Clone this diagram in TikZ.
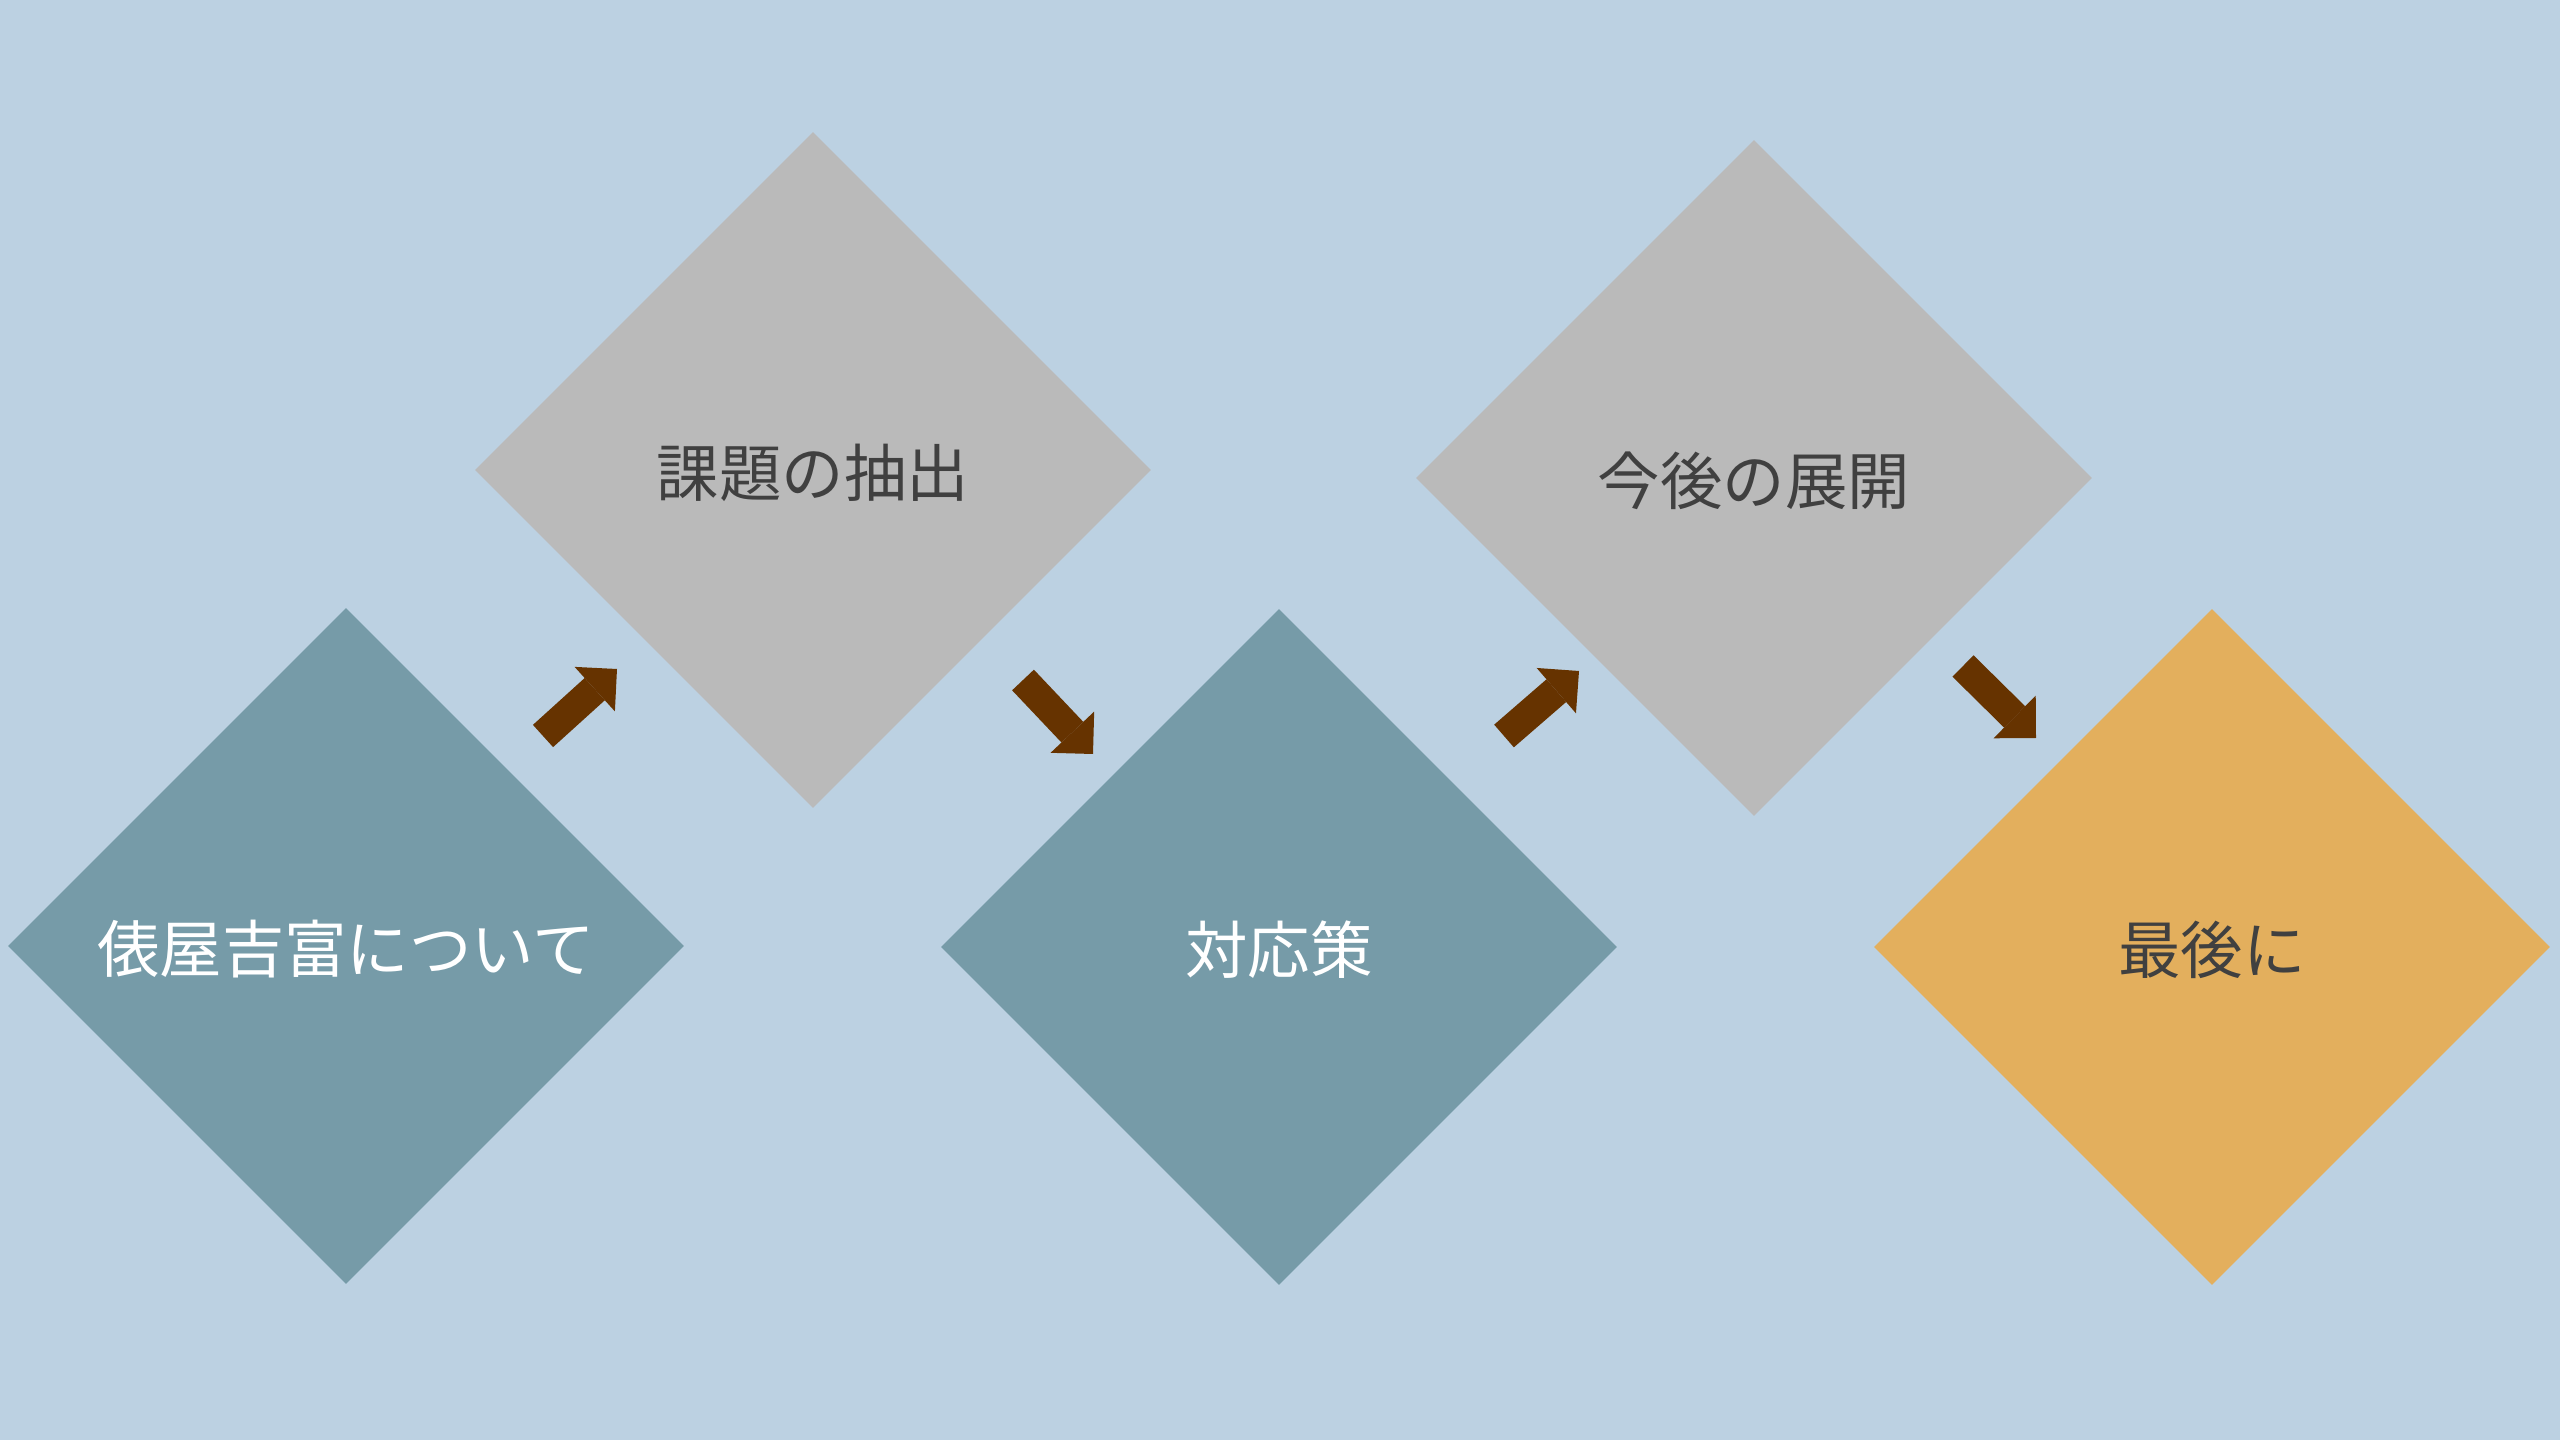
\documentclass[tikz,border=0pt]{standalone}
\usepackage{fontspec}
\setmainfont{Noto Sans CJK JP}
\usetikzlibrary{shapes.geometric,arrows.meta}
\definecolor{bgblue}{HTML}{BCD1E2}
\definecolor{stepteal}{HTML}{769BA8}
\definecolor{stepgray}{HTML}{BABABA}
\definecolor{steporange}{HTML}{E3AF5D}
\definecolor{arrowbrown}{HTML}{663300}
\definecolor{textgray}{HTML}{404040}
\tikzset{
    blockarrow/.style={line width=3mm,arrowbrown,-{Triangle[width=6mm,length=3mm,line width=0pt]}}
}
\begin{document}
\begin{tikzpicture}[x=0.01cm,y=-0.01cm]
        \useasboundingbox (0,0) rectangle (2560,1440);
        \fill[bgblue] (0,0) rectangle (2560,1440);
        \begin{scope}[every node/.style={diamond,aspect=1,inner sep=0pt,minimum width=6.76cm,minimum height=6.76cm,text depth=0pt,font=\fontsize{17.75pt}{20pt}\selectfont}]
            \node[fill=stepteal,text=white] (about) at (346,946) {俵屋吉富について};
            \node[fill=stepgray,text=textgray] (issues) at (813,470) {課題の抽出};
            \node[fill=stepteal,text=white] (measures) at (1279,947) {対応策};
            \node[fill=stepgray,text=textgray] (future) at (1754,478) {今後の展開};
            \node[fill=steporange,text=textgray] (closing) at (2212,947) {最後に};
        \end{scope}
        \coordinate (a1-tail) at (543,736);
        \coordinate (a1-tip) at (617,669);
        \coordinate (a2-tail) at (1023,680);
        \coordinate (a2-tip) at (1093,754);
        \coordinate (a3-tail) at (1504,736);
        \coordinate (a3-tip) at (1579,671);
        \coordinate (a4-tail) at (1963,666);
        \coordinate (a4-tip) at (2036,738);
        \draw [blockarrow] (a1-tail) -- (a1-tip);
        \draw [blockarrow] (a2-tail) -- (a2-tip);
        \draw [blockarrow] (a3-tail) -- (a3-tip);
        \draw [blockarrow] (a4-tail) -- (a4-tip);
    \end{tikzpicture}
\end{document}
